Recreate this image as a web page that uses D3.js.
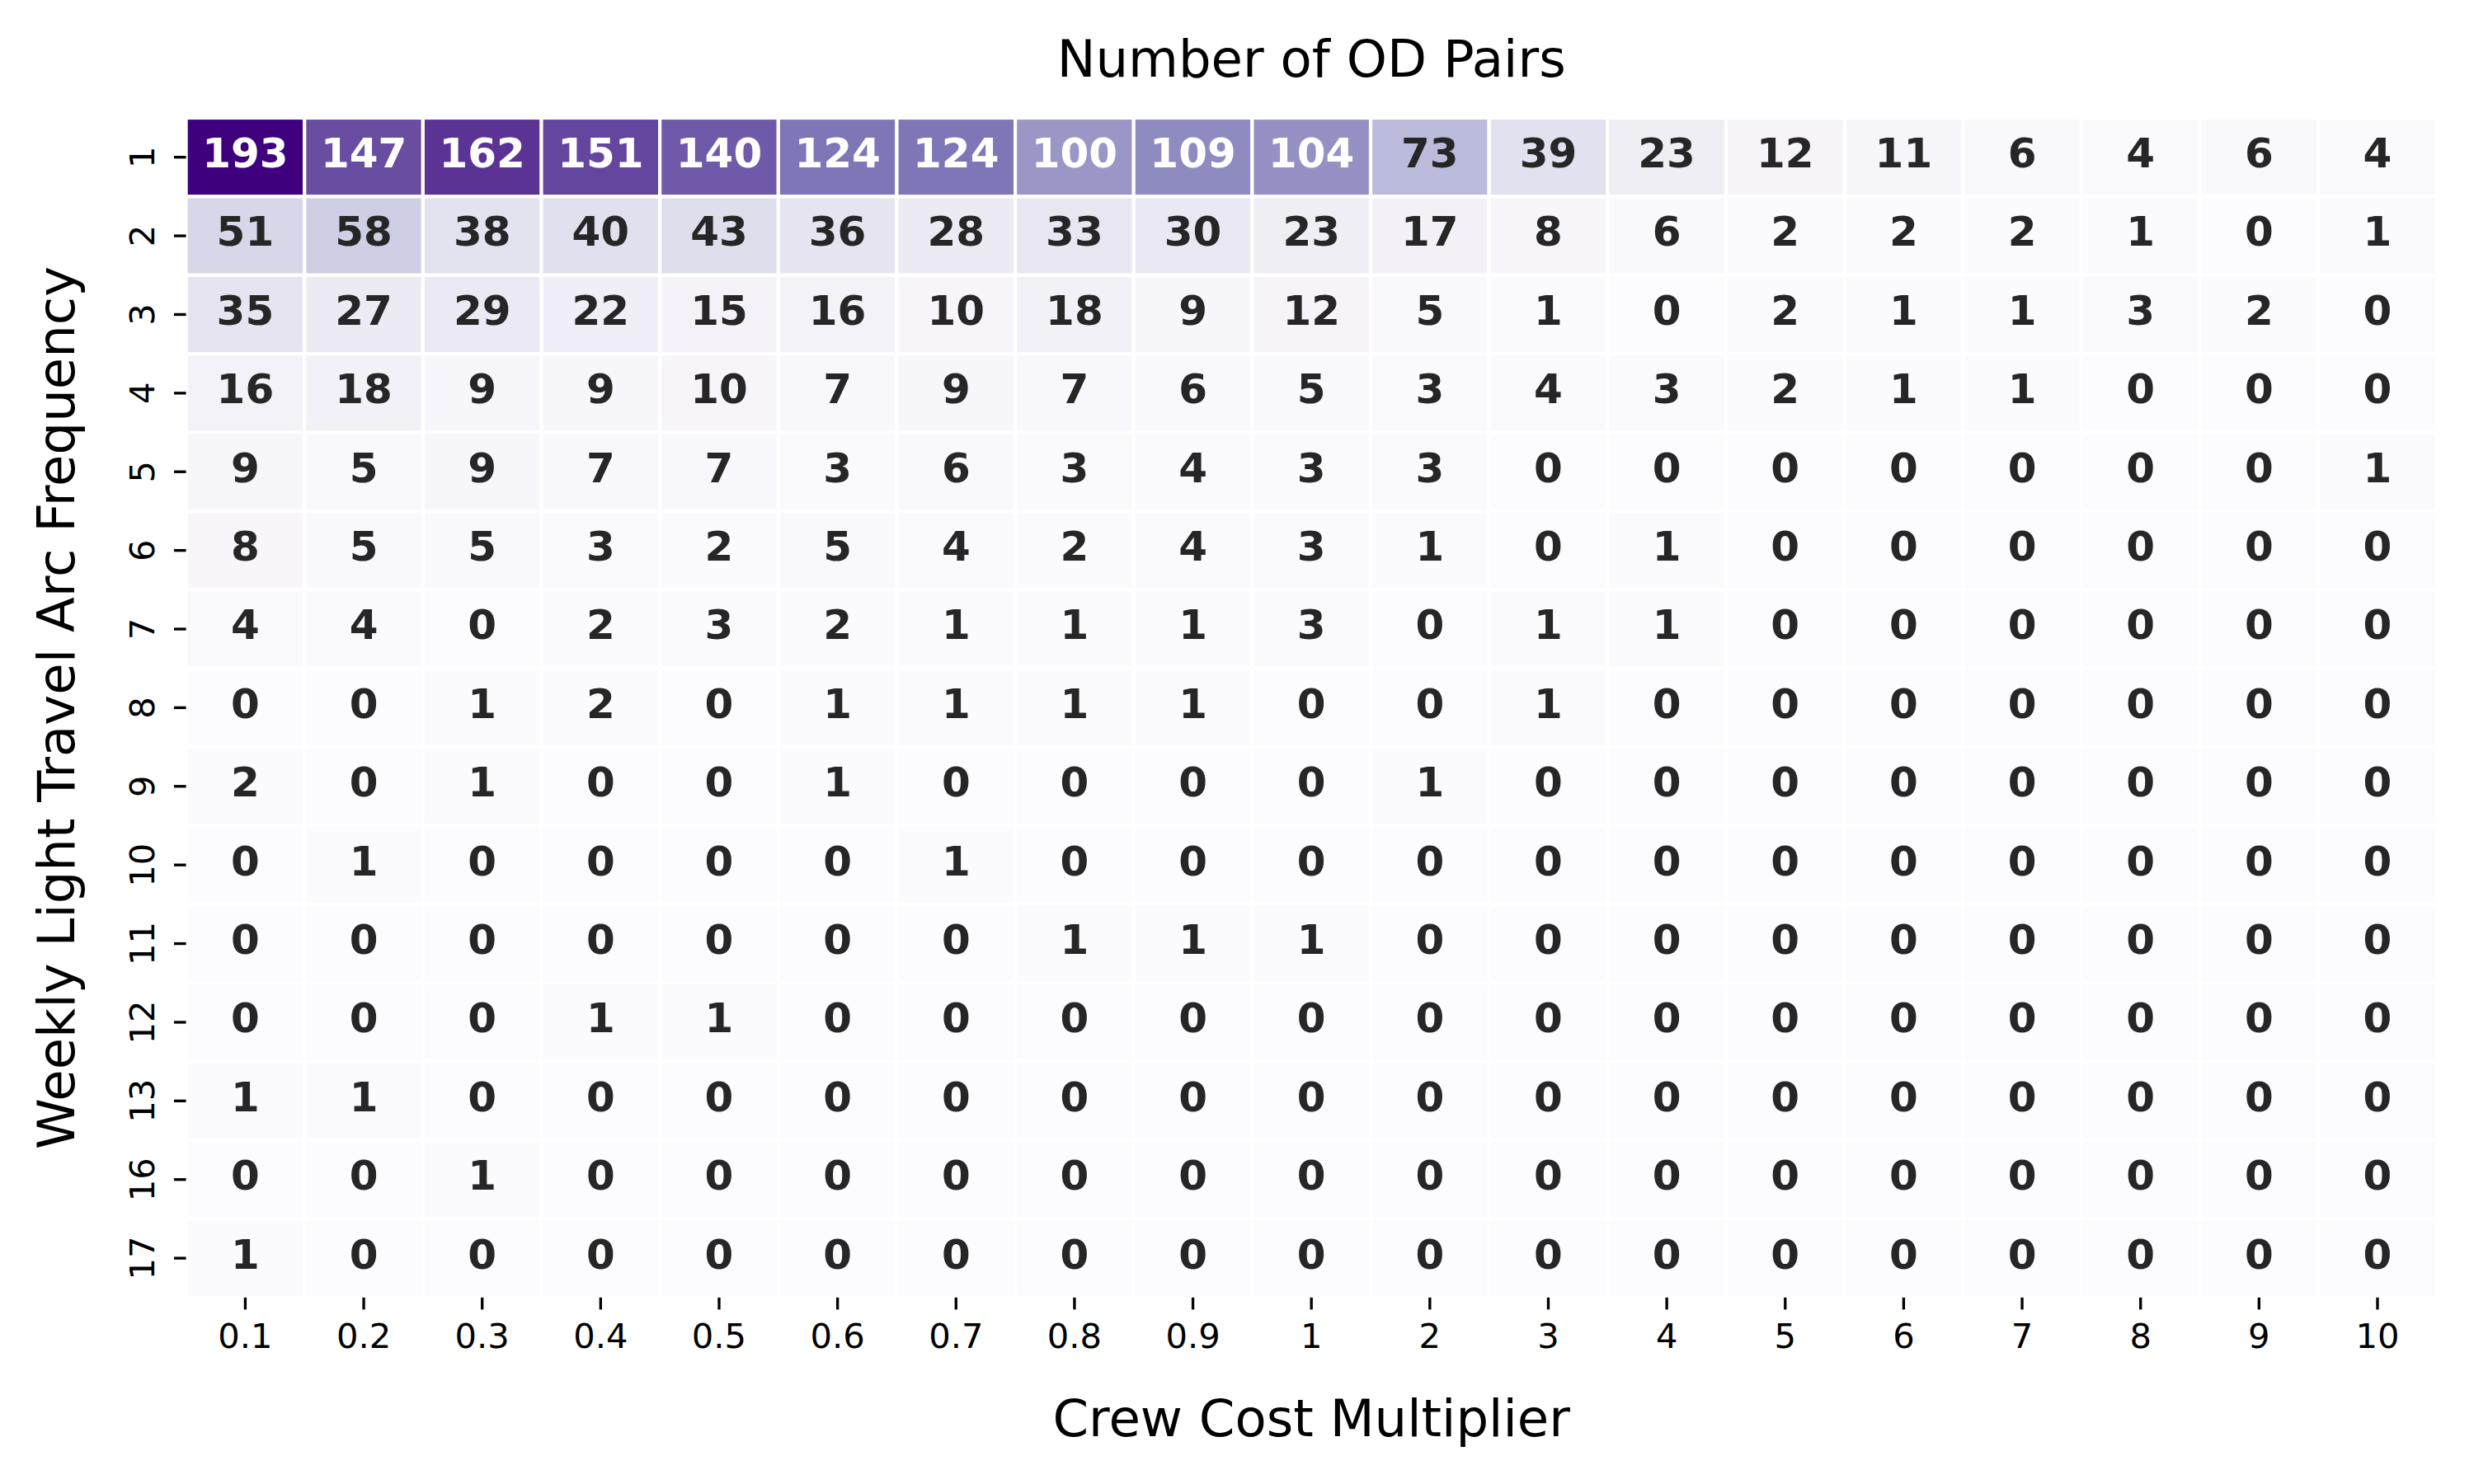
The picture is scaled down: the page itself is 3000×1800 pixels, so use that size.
<!DOCTYPE html>
<html>
<head>
<meta charset="utf-8">
<script src="https://cdn.jsdelivr.net/npm/d3@7"></script>
<style>
  html, body { margin: 0; padding: 0; background: #ffffff; }
  svg { display: block; }
  text { font-family: "DejaVu Sans", sans-serif; }
</style>
</head>
<body>
<svg id="chart" width="3000" height="1800"></svg>
<script>
// ---- Data ----
const crewCostMultipliers = ["0.1","0.2","0.3","0.4","0.5","0.6","0.7","0.8","0.9","1","2","3","4","5","6","7","8","9","10"];
const weeklyFrequencies = ["1","2","3","4","5","6","7","8","9","10","11","12","13","16","17"];
const row1  = [193,147,162,151,140,124,124,100,109,104,73,39,23,12,11,6,4,6,4];
const row2  = [51,58,38,40,43,36,28,33,30,23,17,8,6,2,2,2,1,0,1];
const row3  = [35,27,29,22,15,16,10,18,9,12,5,1,0,2,1,1,3,2,0];
const row4  = [16,18,9,9,10,7,9,7,6,5,3,4,3,2,1,1,0,0,0];
const row5  = [9,5,9,7,7,3,6,3,4,3,3,0,0,0,0,0,0,0,1];
const row6  = [8,5,5,3,2,5,4,2,4,3,1,0,1,0,0,0,0,0,0];
const row7  = [4,4,0,2,3,2,1,1,1,3,0,1,1,0,0,0,0,0,0];
const row8  = [0,0,1,2,0,1,1,1,1,0,0,1,0,0,0,0,0,0,0];
const row9  = [2,0,1,0,0,1,0,0,0,0,1,0,0,0,0,0,0,0,0];
const row10 = [0,1,0,0,0,0,1,0,0,0,0,0,0,0,0,0,0,0,0];
const row11 = [0,0,0,0,0,0,0,1,1,1,0,0,0,0,0,0,0,0,0];
const row12 = [0,0,0,1,1,0,0,0,0,0,0,0,0,0,0,0,0,0,0];
const row13 = [1,1,0,0,0,0,0,0,0,0,0,0,0,0,0,0,0,0,0];
const row16 = [0,0,1,0,0,0,0,0,0,0,0,0,0,0,0,0,0,0,0];
const row17 = [1,0,0,0,0,0,0,0,0,0,0,0,0,0,0,0,0,0,0];
const countRows = [row1,row2,row3,row4,row5,row6,row7,row8,row9,row10,row11,row12,row13,row16,row17];

const titleText = "Number of OD Pairs";
const xLabelText = "Crew Cost Multiplier";
const yLabelText = "Weekly Light Travel Arc Frequency";

// Matplotlib "Purples" anchor colours
const purples = ["#fcfbfd","#efedf5","#dadaeb","#bcbddc","#9e9ac8","#807dba","#6a51a3","#54278f","#3f007d"];

// ---- Layout ----
const L = 225.6, R = 2954.8, T = 143, B = 1573.8;
const PX = 300/72; // pt to px

const cells = [];
weeklyFrequencies.forEach((f, i) => {
  crewCostMultipliers.forEach((c, j) => {
    cells.push({ freq: f, mult: c, value: countRows[i][j] });
  });
});

const vmin = 0, vmax = d3.max(cells, d => d.value);

const x = d3.scaleBand().domain(crewCostMultipliers).range([L, R]).paddingInner(0).paddingOuter(0);
const y = d3.scaleBand().domain(weeklyFrequencies).range([T, B]).paddingInner(0).paddingOuter(0);
const color = d3.scaleLinear()
  .domain(purples.map((_, i) => vmin + i * (vmax - vmin) / (purples.length - 1)))
  .range(purples)
  .interpolate(d3.interpolateRgb)
  .clamp(true);

function luminance(c) {
  const rgb = d3.rgb(c);
  const lin = [rgb.r, rgb.g, rgb.b].map(v => {
    v = v / 255;
    return v <= 0.03928 ? v / 12.92 : Math.pow((v + 0.055) / 1.055, 2.4);
  });
  return 0.2126 * lin[0] + 0.7152 * lin[1] + 0.0722 * lin[2];
}

const svg = d3.select("#chart");

// Cells
svg.append("g").selectAll("rect").data(cells).join("rect")
  .attr("x", d => x(d.mult))
  .attr("y", d => y(d.freq))
  .attr("width", x.bandwidth())
  .attr("height", y.bandwidth())
  .attr("fill", d => color(d.value))
  .attr("stroke", "#ffffff")
  .attr("stroke-width", 1 * PX);

// Annotations
svg.append("g").selectAll("text").data(cells).join("text")
  .attr("x", d => x(d.mult) + x.bandwidth() / 2)
  .attr("y", d => y(d.freq) + y.bandwidth() / 2 + 12.4)
  .attr("text-anchor", "middle")
  .attr("font-size", 12 * PX)
  .attr("font-weight", "bold")
  .attr("fill", d => luminance(color(d.value)) > 0.408 ? "#262626" : "#ffffff")
  .text(d => d.value);

// X axis
const tickLen = 3.5 * PX;
const tickFont = 10 * PX;
const xAxis = svg.append("g")
  .attr("transform", `translate(0,${B})`)
  .call(d3.axisBottom(x).tickSize(tickLen).tickSizeOuter(0));
xAxis.select(".domain").remove();
xAxis.selectAll(".tick line").attr("stroke", "#000").attr("stroke-width", 0.8 * PX);
xAxis.selectAll(".tick text")
  .attr("y", 1635 - B).attr("dy", null)
  .attr("font-size", tickFont)
  .attr("font-family", "DejaVu Sans")
  .attr("fill", "#000");

// Y axis
const yAxis = svg.append("g")
  .attr("transform", `translate(${L},0)`)
  .call(d3.axisLeft(y).tickSize(tickLen).tickSizeOuter(0));
yAxis.select(".domain").remove();
yAxis.selectAll(".tick line").attr("stroke", "#000").attr("stroke-width", 0.8 * PX);
yAxis.selectAll(".tick text")
  .attr("x", 0).attr("y", 0).attr("dy", null)
  .attr("text-anchor", "middle")
  .attr("transform", `translate(${187 - L},0) rotate(-90)`)
  .attr("font-size", tickFont)
  .attr("font-family", "DejaVu Sans")
  .attr("fill", "#000");

// Title
svg.append("text")
  .attr("x", (L + R) / 2).attr("y", 93)
  .attr("text-anchor", "middle")
  .attr("font-size", 15 * PX)
  .attr("fill", "#000")
  .text(titleText);

// X label
svg.append("text")
  .attr("x", (L + R) / 2).attr("y", 1742)
  .attr("text-anchor", "middle")
  .attr("font-size", 15 * PX)
  .attr("fill", "#000")
  .text(xLabelText);

// Y label
svg.append("text")
  .attr("transform", `translate(90,${(T + B) / 2}) rotate(-90)`)
  .attr("text-anchor", "middle")
  .attr("font-size", 15 * PX)
  .attr("fill", "#000")
  .text(yLabelText);
</script>
</body>
</html>
